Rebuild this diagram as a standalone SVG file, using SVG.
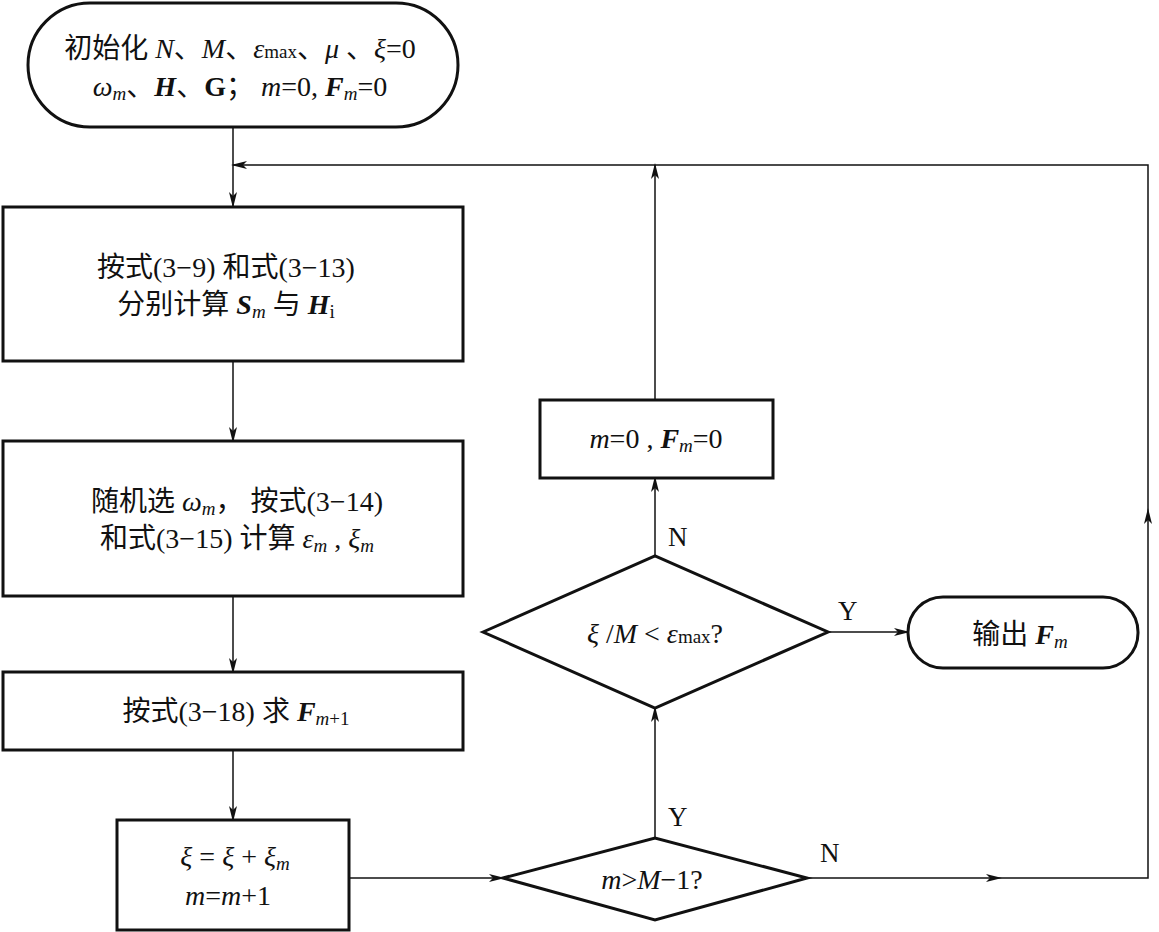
<svg xmlns="http://www.w3.org/2000/svg" width="1159" height="932" viewBox="0 0 1159 932">
<style>
.n{fill:#fff;stroke:#111;stroke-width:3}
.c{fill:none;stroke:#111;stroke-width:1.5}
.t{font-family:"Liberation Serif","Noto Sans CJK SC",serif;font-size:28px;fill:#111;text-anchor:middle}
.i{font-style:italic}
.b{font-style:italic;font-weight:bold}
.s{font-size:19px}
.l{font-family:"Liberation Serif",serif;font-size:27px;fill:#111}
</style>
<defs>
<marker id="a" viewBox="0 0 16 8" refX="14" refY="4" markerWidth="16" markerHeight="8" markerUnits="userSpaceOnUse" orient="auto">
<path d="M0,0 L16,4 L0,8 L4,4 z" fill="#111"/>
</marker>
</defs>
<rect width="1159" height="932" fill="#fff"/>
<g id="connectors">
<path class="c" d="M233,127 V206" marker-end="url(#a)"/>
<path class="c" d="M233,361 V441" marker-end="url(#a)"/>
<path class="c" d="M233,596 V672" marker-end="url(#a)"/>
<path class="c" d="M233,750 V820" marker-end="url(#a)"/>
<path class="c" d="M349,878 H503" marker-end="url(#a)"/>
<path class="c" d="M655,838 V708" marker-end="url(#a)"/>
<path class="c" d="M655,556 V478" marker-end="url(#a)"/>
<path class="c" d="M655,400 V165" marker-end="url(#a)"/>
<path class="c" d="M828,632 H908" marker-end="url(#a)"/>
<path class="c" d="M807,878 H1000" marker-end="url(#a)"/>
<path class="c" d="M1000,878 H1148 V510" marker-end="url(#a)"/>
<path class="c" d="M1148,510 V165 H233" marker-end="url(#a)"/>
<text class="l" x="668" y="546">N</text>
<text class="l" x="838" y="620">Y</text>
<text class="l" x="668" y="826">Y</text>
<text class="l" x="820" y="862">N</text>
</g>
<g id="start">
<rect class="n" x="28" y="3" width="430" height="124" rx="62" ry="62"/>
<text class="t" x="240" y="58">初始化 <tspan class="i">N</tspan>、<tspan class="i">M</tspan>、<tspan class="i">ε</tspan><tspan class="s">max</tspan>、<tspan class="i">μ</tspan> 、<tspan class="i">ξ</tspan>=0</text>
<text class="t" x="240" y="96"><tspan class="i">ω</tspan><tspan class="i s" dy="4">m</tspan><tspan dy="-4">、</tspan><tspan class="b">H</tspan>、<tspan font-weight="bold">G</tspan>；  <tspan class="i">m</tspan>=0, <tspan class="b">F</tspan><tspan class="i s" dy="4">m</tspan><tspan dy="-4">=0</tspan></text>
</g>
<g id="box1">
<rect class="n" x="3" y="207" width="460" height="154"/>
<text class="t" x="226" y="277">按式(3−9) 和式(3−13)</text>
<text class="t" x="226" y="314">分别计算 <tspan class="b">S</tspan><tspan class="i s" dy="4">m</tspan><tspan dy="-4"> 与 </tspan><tspan class="b">H</tspan><tspan class="s" dy="4">i</tspan></text>
</g>
<g id="box2">
<rect class="n" x="3" y="441" width="460" height="155"/>
<text class="t" x="237" y="511">随机选 <tspan class="i">ω</tspan><tspan class="i s" dy="4">m</tspan><tspan dy="-4">， 按式(3−14)</tspan></text>
<text class="t" x="237" y="548">和式(3−15) 计算 <tspan class="i">ε</tspan><tspan class="i s" dy="4">m</tspan><tspan dy="-4"> , </tspan><tspan class="i">ξ</tspan><tspan class="i s" dy="4">m</tspan></text>
</g>
<g id="box3">
<rect class="n" x="3" y="672" width="460" height="78"/>
<text class="t" x="236" y="721">按式(3−18) 求 <tspan class="b">F</tspan><tspan class="i s" dy="4">m</tspan><tspan class="s">+1</tspan></text>
</g>
<g id="box4">
<rect class="n" x="117" y="820" width="232" height="110"/>
<text class="t" x="235" y="866"><tspan class="i">ξ</tspan> = <tspan class="i">ξ</tspan> + <tspan class="i">ξ</tspan><tspan class="i s" dy="4">m</tspan></text>
<text class="t" x="228" y="905"><tspan class="i">m</tspan>=<tspan class="i">m</tspan>+1</text>
</g>
<g id="decision2">
<polygon class="n" points="503,878 655,838 807,878 655,920"/>
<text class="t" x="652" y="889"><tspan class="i">m</tspan>&gt;<tspan class="i">M</tspan>−1?</text>
</g>
<g id="decision1">
<polygon class="n" points="483,632 655,556 828,632 655,708"/>
<text class="t" x="655" y="643"><tspan class="i">ξ</tspan> /<tspan class="i">M</tspan> &lt; <tspan class="i">ε</tspan><tspan class="s">max</tspan>?</text>
</g>
<g id="reset">
<rect class="n" x="540" y="400" width="233" height="78"/>
<text class="t" x="656" y="448"><tspan class="i">m</tspan>=0 , <tspan class="b">F</tspan><tspan class="i s" dy="4">m</tspan><tspan dy="-4">=0</tspan></text>
</g>
<g id="output">
<rect class="n" x="908" y="597" width="230" height="71" rx="35" ry="35"/>
<text class="t" x="1020" y="644">输出 <tspan class="b">F</tspan><tspan class="i s" dy="4">m</tspan></text>
</g>
</svg>
